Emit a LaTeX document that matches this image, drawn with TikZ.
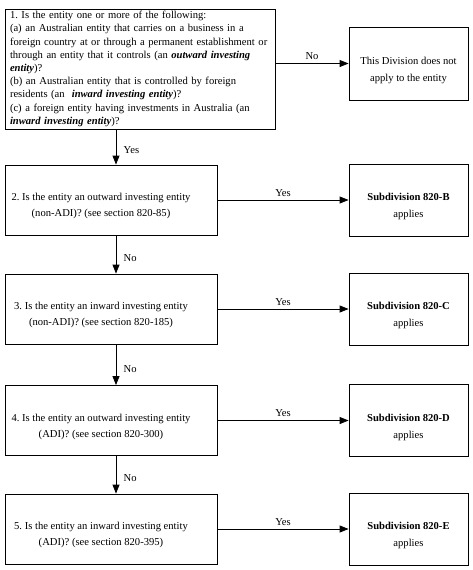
\documentclass[tikz,border=0pt]{standalone}
\usepackage{fontspec}
\setmainfont{Liberation Serif}
\usetikzlibrary{shapes,arrows.meta,calc}
\usetikzlibrary{positioning}
\frenchspacing

% question text sits a little left of and below the box centre
\newcommand{\qtext}[1]{\raisebox{-6pt}[\height][\depth]{\parbox{192pt}{\centering #1}}\hspace*{20pt}}
% result text sits a little below the box centre
\newcommand{\rtext}[2][-6.5pt]{\raisebox{#1}[\height][\depth]{\parbox{117pt}{\centering #2}}}

\begin{document}
\begin{tikzpicture}[x=1pt, y=-1pt, >={Triangle[length=9pt, width=7pt]}]
	\tikzset{first/.style={rectangle, draw, line width=0.8pt, text width=260pt, inner xsep=5pt, inner ysep=1pt, align=left, minimum height=120pt, font=\fontsize{10.6}{13.2}\selectfont}};
	\tikzset{question/.style={rectangle, draw, line width=0.8pt, minimum width=212pt, minimum height=70pt, inner sep=0pt, font=\fontsize{10.6}{16}\selectfont}};
	\tikzset{result/.style={rectangle, draw, line width=0.8pt, minimum width=119pt, minimum height=72pt, inner sep=0pt, font=\fontsize{10.6}{17}\selectfont}};
	\tikzset{line/.style={line width=0.8pt}};
	\tikzset{lbl/.style={font=\fontsize{10.6}{12}\selectfont}};
	\useasboundingbox (0,0) rectangle (473,570);
	% Place nodes
	\node [first] (entity) at (140,69) {1. Is the entity one or more of the following:\\
		(a) an Australian entity that carries on a business in a\\
		foreign country at or through a permanent establishment or\\
		through an entity that it controls (an \textbf{\textit{outward investing}}\\
		\textbf{\textit{entity}})?\\
		(b) an Australian entity that is controlled by foreign\\
		residents (an \ \textbf{\textit{inward investing entity}})?\\
		(c) a foreign entity having investments in Australia (an\\
		\textbf{\textit{inward investing entity}})?};
	\node [result, minimum height=73pt] (nodiv) at (408.5,63.5) {\rtext[-7pt]{This Division does not\\apply to the entity}};
	\node [question] (outnon) at (111,200) {\qtext{2. Is the entity an outward investing entity (non-ADI)? (see section 820-85)}};
	\node [result] (subb) at (408.5,200) {\rtext{\textbf{Subdivision 820-B}\\applies}};
	\node [question] (innon) at (111,309) {\qtext{3. Is the entity an inward investing entity (non-ADI)? (see section 820-185)}};
	\node [result] (subc) at (408.5,309) {\rtext{\textbf{Subdivision 820-C}\\applies}};
	\node [question] (outadi) at (111,420.5) {\qtext{4. Is the entity an outward investing entity (ADI)? (see section 820-300)}};
	\node [result] (subd) at (408.5,420.5) {\rtext{\textbf{Subdivision 820-D}\\applies}};
	\node [question] (inadi) at (111,529) {\qtext{5. Is the entity an inward investing entity (ADI)? (see section 820-395)}};
	\node [result] (sube) at (408.5,529) {\rtext{\textbf{Subdivision 820-E}\\applies}};
	\coordinate (col) at (116,0);
	%Place draw
	\draw [line, ->] (entity.east |- nodiv) -- node[lbl, above] {No} (nodiv);
	\draw [line, ->] (entity.south -| col) -- node[lbl, right=4pt, pos=0.6] {Yes} (outnon.north -| col);
	\draw [line, ->] (outnon) -- node[lbl, above] {Yes} (subb);
	\draw [line, ->] (outnon.south -| col) -- node[lbl, right=4pt, pos=0.6] {No} (innon.north -| col);
	\draw [line, ->] (innon) -- node[lbl, above] {Yes} (subc);
	\draw [line, ->] (innon.south -| col) -- node[lbl, right=4pt, pos=0.6] {No} (outadi.north -| col);
	\draw [line, ->] (outadi) -- node[lbl, above] {Yes} (subd);
	\draw [line, ->] (outadi.south -| col) -- node[lbl, right=4pt, pos=0.6] {No} (inadi.north -| col);
	\draw [line, ->] (inadi) -- node[lbl, above] {Yes} (sube);
\end{tikzpicture}
\end{document}
